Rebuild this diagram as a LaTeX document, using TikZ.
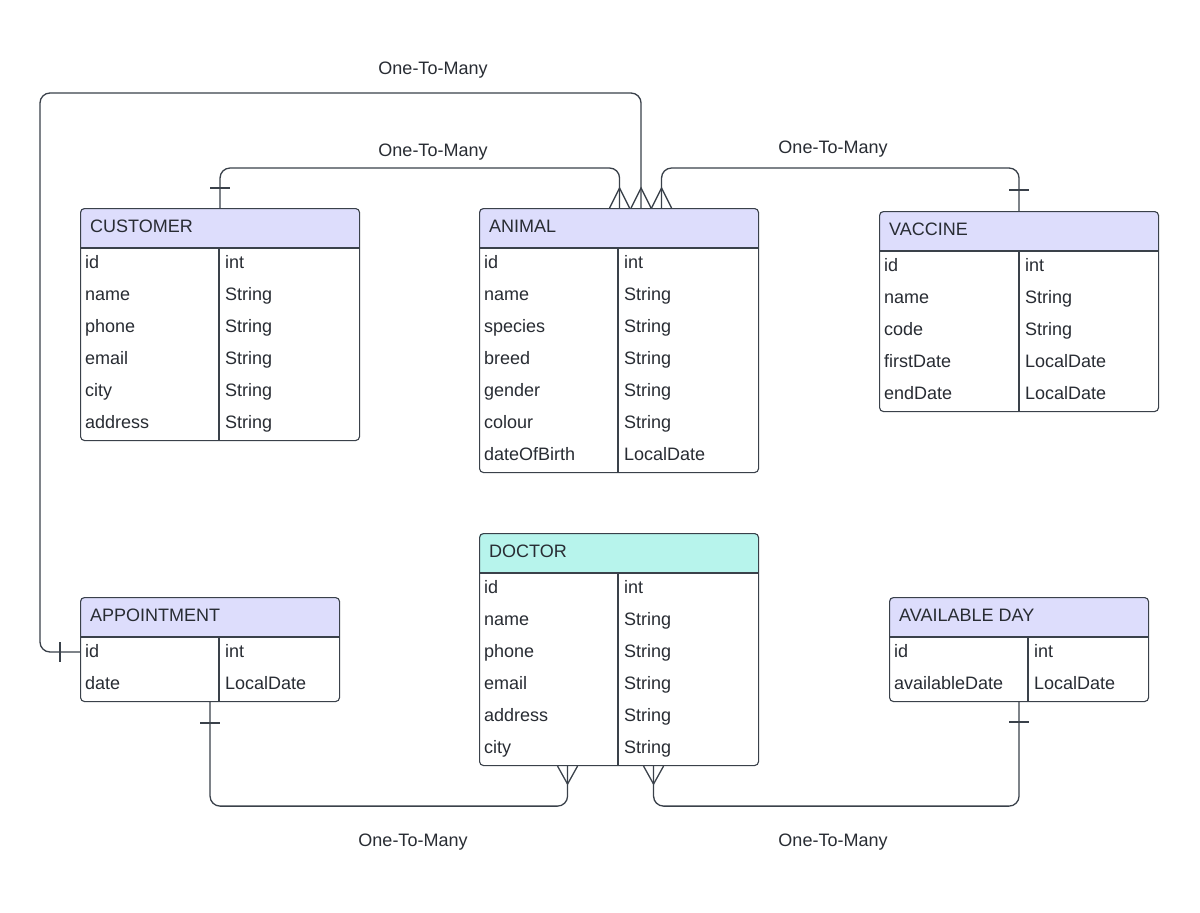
\documentclass[tikz,border=0pt]{standalone}
\usepackage{fontspec}
\setmainfont{Liberation Sans}
\usetikzlibrary{calc}
\definecolor{hdr}{RGB}{221,221,252}
\definecolor{hdrteal}{RGB}{183,244,236}
\definecolor{ln}{RGB}{58,65,74}
\definecolor{tx}{RGB}{40,44,51}
\tikzset{
  tblbox/.style={draw=ln, line width=1.1pt, rounded corners=4pt, inner sep=0pt},
  tblline/.style={draw=ln, line width=1.1pt},
  txt/.style={inner sep=0pt, text=tx, font=\fontsize{18}{21}\selectfont},
  conn/.style={draw=ln, line width=1.3pt, rounded corners=10pt},
  erbar/.style={draw=ln, line width=1.3pt},
  lbl/.style={text=tx, inner sep=0pt, font=\fontsize{18}{21}\selectfont},
}
\newcommand{\ertable}[9]{%
  \pgfmathsetmacro\tabh{40+32*#6}
  \begin{scope}
    \clip[rounded corners=4pt] (#2,#3) rectangle ++(#4,\tabh);
    \fill[#7] (#2,#3) rectangle ++(#4,40);
  \end{scope}
  \node[tblbox, minimum width=#4 pt, minimum height=\tabh pt, anchor=north west] (#1) at (#2,#3) {};
  \draw[tblline] (#2,#3+40) -- ++(#4,0);
  \draw[tblline] (#2+#5,#3+40) -- (#2+#5,#3+\tabh);
  \node[txt, anchor=base west] at (#2+10,#3+24) {#8};
  \foreach \f/\t [count=\i] in {#9} {
    \node[txt, anchor=base west] at (#2+5,#3+28+32*\i) {\f};
    \node[txt, anchor=base west] at (#2+#5+6,#3+28+32*\i) {\t};
  }
}
\begin{document}
\begin{tikzpicture}[x=1pt,y=-1pt]
\useasboundingbox[fill=white] (0,0) rectangle (1200,913);

\ertable{customer}{80}{208}{279}{139}{6}{hdr}{CUSTOMER}{id/int,name/String,phone/String,email/String,city/String,address/String}
\ertable{animal}{479}{208}{279}{139}{7}{hdr}{ANIMAL}{id/int,name/String,species/String,breed/String,gender/String,colour/String,dateOfBirth/LocalDate}
\ertable{vaccine}{879}{211}{279}{140}{5}{hdr}{VACCINE}{id/int,name/String,code/String,firstDate/LocalDate,endDate/LocalDate}
\ertable{doctor}{479}{533}{279}{139}{6}{hdrteal}{DOCTOR}{id/int,name/String,phone/String,email/String,address/String,city/String}
\ertable{appointment}{80}{597}{259}{139}{2}{hdr}{APPOINTMENT}{id/int,date/LocalDate}
\ertable{avail}{889}{597}{259}{139}{2}{hdr}{AVAILABLE DAY}{id/int,availableDate/LocalDate}

% attachment points
\coordinate (a1) at ($(animal.north)+(0.5,0)$);
\coordinate (a2) at ($(animal.north)+(22,0)$);
\coordinate (a3) at ($(animal.north)+(42.5,0)$);
\coordinate (apin) at ($(appointment.north west)+(0,55)$);
\coordinate (d1) at ($(doctor.south)+(-51.5,0)$);
\coordinate (d2) at ($(doctor.south)+(34.5,0)$);
\coordinate (topleft) at (40,93);

% connectors
\draw[conn] (customer.north) |- ($(a1)+(0,-40)$) -- (a1);
\draw[conn] (a2) |- (topleft) |- (apin);
\draw[conn] (a3) |- ($(vaccine.north)+(0,-43)$) -- (vaccine.north);
\draw[conn] (appointment.south) |- ($(d1)+(0,40)$) -- (d1);
\draw[conn] (d2) |- ($(avail.south)+(0,104)$) -- (avail.south);

% crow's feet (many)
\foreach \c in {a1,a2,a3}{
  \draw[erbar] ($(\c)+(-10,0)$) -- ($(\c)+(0,-20)$) -- ($(\c)+(10,0)$);
}
\foreach \c in {d1,d2}{
  \draw[erbar] ($(\c)+(-10,0)$) -- ($(\c)+(0,18)$) -- ($(\c)+(10,0)$);
}
% bars (one)
\draw[erbar] ($(customer.north)+(-10,-20)$) -- ($(customer.north)+(10,-20)$);
\draw[erbar] ($(vaccine.north)+(-10,-21)$) -- ($(vaccine.north)+(10,-21)$);
\draw[erbar] ($(apin)+(-20,-10)$) -- ($(apin)+(-20,10)$);
\draw[erbar] ($(appointment.south)+(-10,21)$) -- ($(appointment.south)+(10,21)$);
\draw[erbar] ($(avail.south)+(-10,20)$) -- ($(avail.south)+(10,20)$);

% labels
\node[lbl] (l1) at (433,70) {One-To-Many};
\node[lbl] (l2) at (433,152) {One-To-Many};
\node[lbl] (l3) at (833,149) {One-To-Many};
\node[lbl] (l4) at (413,842) {One-To-Many};
\node[lbl] (l5) at (833,842) {One-To-Many};
\end{tikzpicture}
\end{document}
